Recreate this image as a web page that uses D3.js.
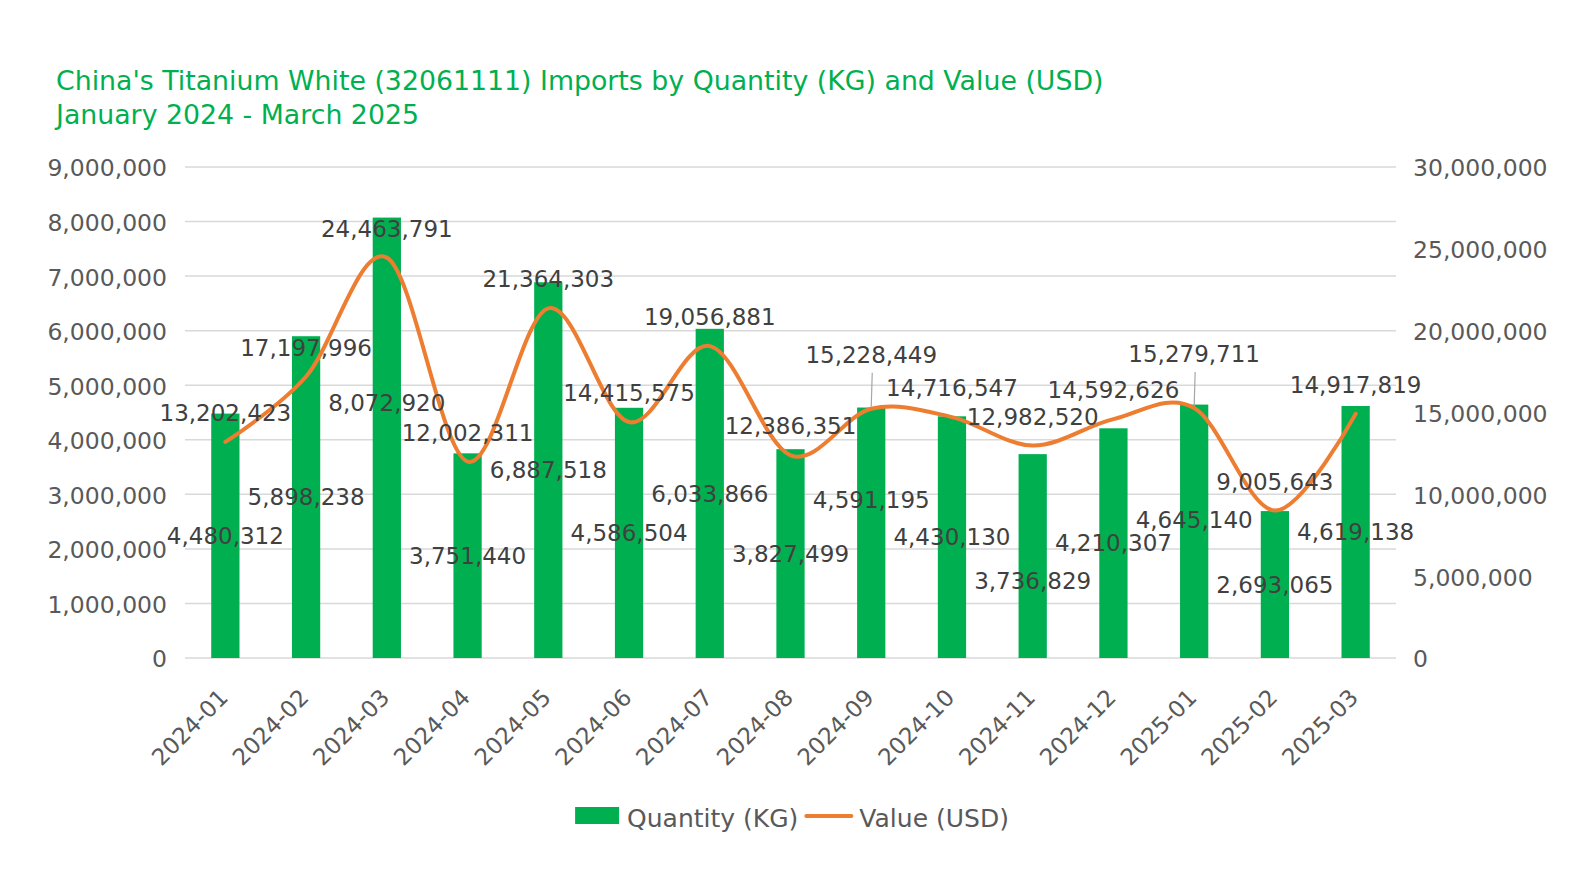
<!DOCTYPE html>
<html><head><meta charset="utf-8">
<script src="https://cdn.jsdelivr.net/npm/d3@7"></script>
<style>body{margin:0;background:#fff} svg text{font-family:"DejaVu Sans",sans-serif}</style>
</head><body>
<svg id="c" width="1595" height="886"></svg>
<script>
const categories = ["2024-01","2024-02","2024-03","2024-04","2024-05","2024-06","2024-07","2024-08","2024-09","2024-10","2024-11","2024-12","2025-01","2025-02","2025-03"];
const quantityKg = [4480312,5898238,8072920,3751440,6887518,4586504,6033866,3827499,4591195,4430130,3736829,4210307,4645140,2693065,4619138];
const valueUsd = [13202423,17197996,24463791,12002311,21364303,14415575,19056881,12386351,15228449,14716547,12982520,14592626,15279711,9005643,14917819];
const leftTicks = [0,1000000,2000000,3000000,4000000,5000000,6000000,7000000,8000000,9000000];
const rightTicks = [0,5000000,10000000,15000000,20000000,25000000,30000000];
const titleLines = ["China's Titanium White (32061111) Imports by Quantity (KG) and Value (USD)","January 2024 - March 2025"];
const seriesNames = ["Quantity (KG)","Value (USD)"];
// label layout tweaks (px), kept separate from data
const qtyLabelShift = {"2024-03":-35,"2024-09":-33,"2024-11":25,"2025-01":-12};
const leaderLabels = ["2024-09","2025-01"];

const GREEN="#00B050", ORANGE="#ED7D31", GRID="#D9D9D9", TICK="#595959", LABEL="#404040";
const svg = d3.select("#c");
const pLeft=185, pRight=1396, pTop=167, pBottom=658;
const fmt = d3.format(",");

const x = d3.scaleBand().domain(categories).range([pLeft,pRight]).paddingInner(0.65).paddingOuter(0.325);
const yL = d3.scaleLinear().domain([0,9000000]).range([pBottom,pTop]);
const yR = d3.scaleLinear().domain([0,30000000]).range([pBottom,pTop]);
const cx = c => x(c)+x.bandwidth()/2;

// title
const tg = svg.append("g");
const t1 = tg.append("text").attr("x",56).attr("y",90).attr("fill",GREEN).style("font-size","25px").text(titleLines[0]);
const w = t1.node().getComputedTextLength();
const fs = 25*1048/w;
t1.style("font-size",fs+"px");
tg.append("text").attr("x",56).attr("y",124).attr("fill",GREEN).style("font-size",fs+"px").text(titleLines[1]);

// gridlines
svg.append("g").selectAll("line").data(leftTicks).join("line")
  .attr("x1",pLeft).attr("x2",pRight).attr("y1",d=>yL(d)).attr("y2",d=>yL(d))
  .attr("stroke",GRID).attr("stroke-width",1.5);

// left axis
const axL = svg.append("g").attr("transform",`translate(${pLeft},0)`)
  .call(d3.axisLeft(yL).tickValues(leftTicks).tickFormat(fmt).tickSize(0).tickPadding(18));
axL.select(".domain").remove();
axL.selectAll("text").attr("fill",TICK).style("font-size","23.5px").attr("dy","0.38em");

// right axis
const axR = svg.append("g").attr("transform",`translate(${pRight},0)`)
  .call(d3.axisRight(yR).tickValues(rightTicks).tickFormat(fmt).tickSize(0).tickPadding(17));
axR.select(".domain").remove();
axR.selectAll("text").attr("fill",TICK).style("font-size","23.5px").attr("dy","0.38em");

// x axis labels
const axX = svg.append("g").attr("transform",`translate(0,${pBottom})`)
  .call(d3.axisBottom(x).tickSize(0).tickPadding(0));
axX.select(".domain").remove();
axX.selectAll("text")
  .attr("fill",TICK).style("font-size","23px")
  .attr("text-anchor","end").attr("dy",null).attr("y",0)
  .attr("transform","translate(4,41) rotate(-45)");

// bars
svg.append("g").selectAll("rect").data(categories).join("rect")
  .attr("x",d=>x(d)).attr("width",x.bandwidth())
  .attr("y",(d,i)=>yL(quantityKg[i])).attr("height",(d,i)=>yL(0)-yL(quantityKg[i]))
  .attr("fill",GREEN);

// line
const line = d3.line().x((d,i)=>cx(categories[i])).y(d=>yR(d)).curve(d3.curveCardinal.tension(0));
svg.append("path").datum(valueUsd).attr("d",line).attr("fill","none")
  .attr("stroke",ORANGE).attr("stroke-width",4).attr("stroke-linecap","round").attr("stroke-linejoin","round");

// leader lines
svg.append("g").selectAll("line").data(leaderLabels).join("line")
  .attr("x1",d=>cx(d)+1).attr("x2",d=>cx(d))
  .attr("y1",d=>yR(valueUsd[categories.indexOf(d)])-36)
  .attr("y2",d=>yR(valueUsd[categories.indexOf(d)])-2)
  .attr("stroke","#A6A6A6").attr("stroke-width",1.2);

// value labels
svg.append("g").selectAll("text").data(categories).join("text")
  .attr("x",d=>cx(d))
  .attr("y",(d,i)=>yR(valueUsd[i]) - (leaderLabels.includes(d)?46:21))
  .attr("text-anchor","middle").attr("fill",LABEL).style("font-size","23px")
  .text((d,i)=>fmt(valueUsd[i]));

// quantity labels
svg.append("g").selectAll("text").data(categories).join("text")
  .attr("x",d=>cx(d))
  .attr("y",(d,i)=>(yL(quantityKg[i])+yL(0))/2 + (qtyLabelShift[d]||0))
  .attr("dy","0.36em")
  .attr("text-anchor","middle").attr("fill",LABEL).style("font-size","23px")
  .text((d,i)=>fmt(quantityKg[i]));

// legend
const lg = svg.append("g");
let lx = 0;
lg.append("rect").attr("x",lx).attr("y",-9).attr("width",44).attr("height",17).attr("fill",GREEN);
lx += 52;
const lt1 = lg.append("text").attr("x",lx).attr("y",11).attr("fill",TICK).style("font-size","25px").text(seriesNames[0]);
lx += lt1.node().getComputedTextLength()+8;
lg.append("line").attr("x1",lx).attr("x2",lx+45).attr("y1",0).attr("y2",0)
  .attr("stroke",ORANGE).attr("stroke-width",4).attr("stroke-linecap","round");
lx += 53;
const lt2 = lg.append("text").attr("x",lx).attr("y",11).attr("fill",TICK).style("font-size","25px").text(seriesNames[1]);
lx += lt2.node().getComputedTextLength();
lg.attr("transform",`translate(${792-lx/2},816)`);
</script>
</body></html>
